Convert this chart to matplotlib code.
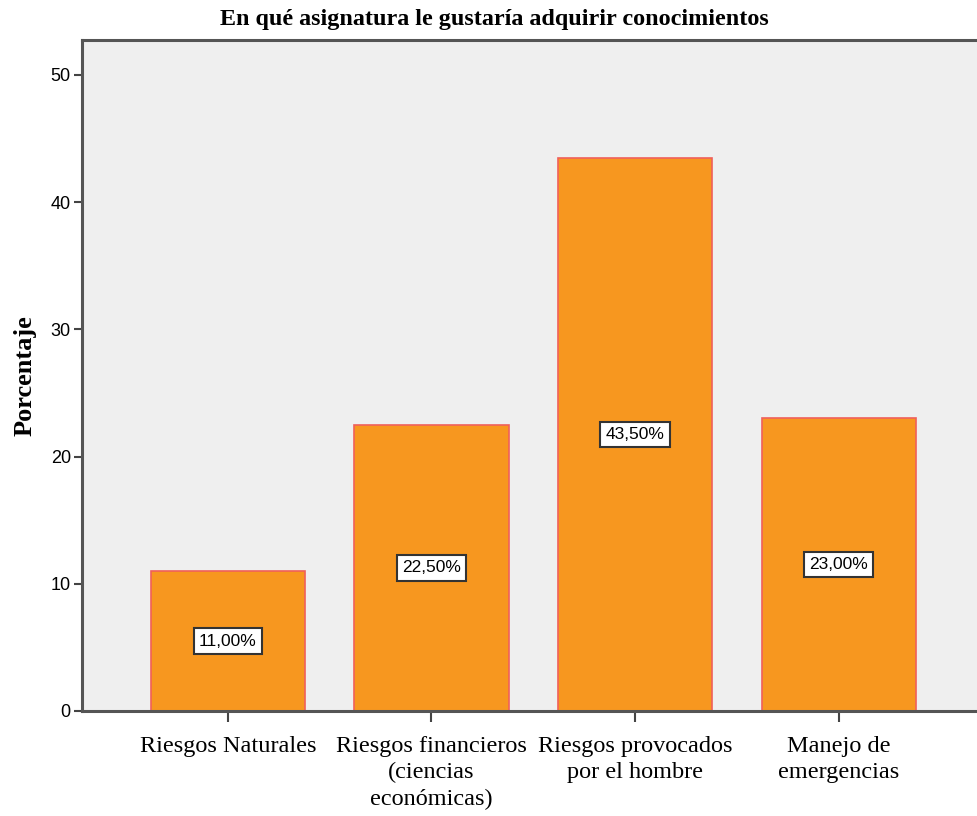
import numpy as np
import matplotlib.pyplot as plt

###########################################################################################################################################################
#################################################################### Data ################################################################################
###########################################################################################################################################################
categories                      = ["Riesgos Naturales", "Riesgos financieros\n(ciencias\neconómicas)",
                                   "Riesgos provocados\npor el hombre", "Manejo de\nemergencias"]
percentages                     = [11.0, 22.5, 43.5, 23.0]
bar_labels                      = ["11,00%", "22,50%", "43,50%", "23,00%"]
y_ticks                         = [0, 10, 20, 30, 40, 50]

###########################################################################################################################################################
#################################################################### Plotting ############################################################################
###########################################################################################################################################################
fig                             = plt.figure(figsize = (9.78, 8.16), dpi = 100)
ax                              = fig.add_axes([0.0838, 0.1287, 0.9162, 0.8223])
ax.set_facecolor("#efefef")

x                               = np.arange(len(categories))
ax.bar(x, percentages, width = 0.757, color = "#f7971f", edgecolor = "#f0605a", linewidth = 1.2, zorder = 2)

for n, value in enumerate(percentages):
    ax.text(x[n], value/2, bar_labels[n], ha = "center", va = "center", fontsize = 12.5,
            family = "Liberation Sans", zorder = 3,
            bbox = dict(boxstyle = "square,pad=0.3", facecolor = "white", edgecolor = "#333333", linewidth = 1.5))

ax.set_xlim(-0.717, 3.685)
ax.set_ylim(0, 52.75)
ax.set_xticks(x)
ax.set_xticklabels(categories, family = "Liberation Serif", fontsize = 17.5, linespacing = 1.32)
ax.set_yticks(y_ticks)
ax.set_yticklabels([str(t) for t in y_ticks], family = "Liberation Sans", fontsize = 13)
ax.tick_params(axis = "x", length = 8, width = 1.5, color = "#444444", pad = 10)
ax.tick_params(axis = "y", length = 6, width = 1.5, color = "#444444", pad = 2)

for side in ["left", "bottom", "top"]:
    ax.spines[side].set_linewidth(2.2)
    ax.spines[side].set_color("#555555")
ax.spines["right"].set_visible(False)

ax.set_ylabel("Porcentaje", family = "Liberation Serif", fontweight = "bold", fontsize = 19, labelpad = 10)
fig.text(0.5 * (218 + 770) / 978, 1 - 20/816, "En qué asignatura le gustaría adquirir conocimientos",
         ha = "center", va = "center", family = "Liberation Serif", fontweight = "bold", fontsize = 17.4)

fig.savefig("out.png", dpi = 100)
